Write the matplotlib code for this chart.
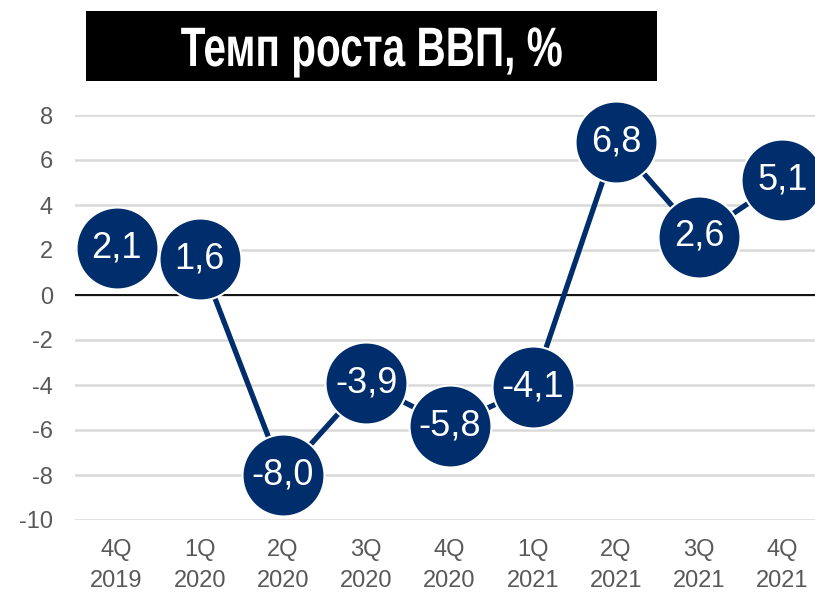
import matplotlib

matplotlib.use("Agg")

import matplotlib.pyplot as plt
from matplotlib.patches import Rectangle
from matplotlib.patheffects import AbstractPathEffect
from matplotlib.transforms import Affine2D

quarters = ["4Q\n2019", "1Q\n2020", "2Q\n2020", "3Q\n2020", "4Q\n2020",
            "1Q\n2021", "2Q\n2021", "3Q\n2021", "4Q\n2021"]
growth = [2.1, 1.6, -8.0, -3.9, -5.8, -4.1, 6.8, 2.6, 5.1]
y_ticks = [-10, -8, -6, -4, -2, 0, 2, 4, 6, 8]

NAVY = "#002D6B"
GREY = "#595959"

plt.rcParams["font.family"] = ["Liberation Sans", "DejaVu Sans"]


class Squeeze(AbstractPathEffect):
    """Narrow the glyphs horizontally around a fixed x (in pixels)."""

    def __init__(self, sx, cx):
        super().__init__()
        self.sx = sx
        self.cx = cx

    def draw_path(self, renderer, gc, tpath, affine, rgbFace=None):
        squeeze = Affine2D().translate(-self.cx, 0).scale(self.sx, 1).translate(self.cx, 0)
        renderer.draw_path(gc, tpath, affine + squeeze, rgbFace)


W, H = 815, 595
fig = plt.figure(figsize=(W / 100, H / 100), dpi=100)
fig.patch.set_facecolor("white")

# axes extends past the right edge on purpose (last point is clipped in the original)
left, right, top, bottom = 75, 824, 115, 520
ax = fig.add_axes([left / W, (H - bottom) / H, (right - left) / W, (bottom - top) / H])
ax.set_facecolor("white")

x = list(range(len(growth)))
ax.plot(x, growth, color=NAVY, linewidth=3.8, zorder=3, clip_on=False,
        marker="o", markersize=59, markerfacecolor=NAVY, markeredgecolor="white",
        markeredgewidth=1.5)
for xi, v in zip(x, growth):
    ax.text(xi, v, f"{v:.1f}".replace(".", ","), color="white", fontsize=26,
            ha="center", va="center", zorder=4, clip_on=False)

ax.axhline(0, color="black", linewidth=1.3, zorder=2)
ax.set_ylim(-10, 8)
ax.set_xlim(-0.5, len(growth) - 0.5)
ax.set_yticks(y_ticks)
ax.set_yticklabels([str(t) for t in y_ticks])
ax.set_xticks(x)
ax.set_xticklabels(quarters, linespacing=1.5)
ax.yaxis.grid(True, color="#D9D9D9", linewidth=1.8, zorder=0)
ax.set_axisbelow(True)
for s in ax.spines.values():
    s.set_visible(False)
ax.tick_params(axis="both", length=0, labelsize=17, colors=GREY)
ax.tick_params(axis="y", pad=16)
ax.tick_params(axis="x", pad=14)

# title box
box_l, box_r, box_t, box_b = 86, 657, 11, 81
fig.patches.append(Rectangle((box_l / W, (H - box_b) / H), (box_r - box_l) / W,
                             (box_b - box_t) / H, transform=fig.transFigure,
                             facecolor="black", edgecolor="none", zorder=1))
cx = (box_l + box_r) / 2
fig.text(cx / W, (H - 52) / H, "Темп роста ВВП, %", color="white",
         fontsize=40, fontweight="bold", ha="center", va="center", zorder=2,
         path_effects=[Squeeze(0.73, cx)])

fig.savefig("out.png", dpi=100)
